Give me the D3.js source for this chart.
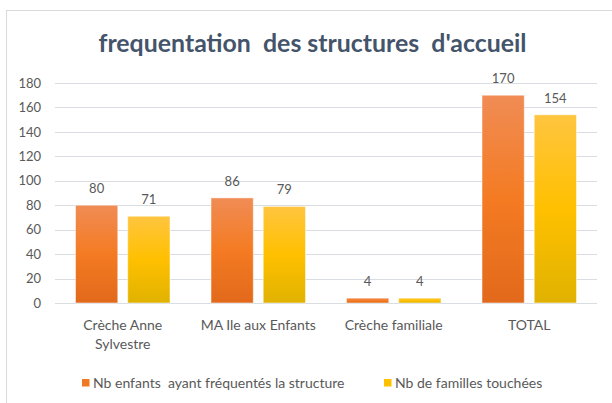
<!DOCTYPE html>
<html>
<head>
<meta charset="utf-8">
<script src="https://cdn.jsdelivr.net/npm/d3@7"></script>
<style>
  body { margin: 0; background: #fff; }
  svg { display: block; font-family: Lato, "Open Sans", sans-serif; }
  text { white-space: pre; }
</style>
</head>
<body>
<div id="viz"></div>
<script>
// ========================================
// Data
// ========================================
var categories = ["Crèche Anne Sylvestre", "MA Ile aux Enfants", "Crèche familiale", "TOTAL"];
var categoryLines = [["Crèche Anne", "Sylvestre"], ["MA Ile aux Enfants"], ["Crèche familiale"], ["TOTAL"]];
var seriesNames = ["Nb enfants  ayant fréquentés la structure", "Nb de familles touchées"];
var enfants = [80, 86, 4, 170];
var familles = [71, 79, 4, 154];
var yTicks = [0, 20, 40, 60, 80, 100, 120, 140, 160, 180];
var title = "frequentation  des structures  d'accueil";

// ========================================
// Layout and colours
// ========================================
var width = 612, height = 403;
var plot = {left: 55, right: 597, top: 83, bottom: 303};
var text_color = '#595959',
    title_color = '#44546A',
    grid_color = '#D9DCE1',
    border_color = '#D9D9D9';

var series = [
   {name: seriesNames[0], values: enfants, grad: 'gOrange', swatch: '#F07A22'},
   {name: seriesNames[1], values: familles, grad: 'gYellow', swatch: '#FFC000'}
];

var svg = d3.select("#viz")
   .append("svg")
   .attr("width", width)
   .attr("height", height);

// gradients for the bars
var defs = svg.append("defs");
function addGradient(id, stops) {
   var g = defs.append("linearGradient")
      .attr("id", id)
      .attr("x1", 0).attr("y1", 0).attr("x2", 0).attr("y2", 1);
   stops.forEach(s => g.append("stop").attr("offset", s[0]).attr("stop-color", s[1]));
}
addGradient('gOrange', [[0, '#F08C55'], [0.5, '#F47B22'], [1, '#E2691B']]);
addGradient('gYellow', [[0, '#FFC53F'], [0.5, '#FFC000'], [1, '#E0B200']]);

// chart border
svg.append("rect")
   .attr("x", 6.5).attr("y", 10.5)
   .attr("width", 640).attr("height", 420)
   .style("fill", "none")
   .style("stroke", border_color);

// title
svg.append("text")
   .attr("x", 312.5)
   .attr("y", 52)
   .attr("text-anchor", "middle")
   .attr("textLength", 428)
   .attr("lengthAdjust", "spacingAndGlyphs")
   .style("font-size", "24px")
   .style("font-weight", "bold")
   .style("fill", title_color)
   .text(title);

// ========================================
// Scales
// ========================================
var x0 = d3.scaleBand()
   .domain(categories)
   .range([plot.left, plot.right]);

var x1 = d3.scaleBand()
   .domain([0, 1])
   .range([20.5, x0.bandwidth() - 20.5])
   .paddingInner(0.19);

var y = d3.scaleLinear()
   .domain([0, 180])
   .range([plot.bottom, plot.top]);

// gridlines
svg.append("g")
   .selectAll("line")
   .data(yTicks)
   .enter()
   .append("line")
   .attr("x1", plot.left).attr("x2", plot.right)
   .attr("y1", d => Math.round(y(d)) + 0.5)
   .attr("y2", d => Math.round(y(d)) + 0.5)
   .style("stroke", grid_color)
   .style("stroke-width", 1.2);

// y axis labels
var yAxis = svg.append("g")
   .attr("transform", `translate(${plot.left - 14}, 0)`)
   .call(d3.axisLeft(y).tickValues(yTicks).tickSize(0).tickPadding(0));
yAxis.select(".domain").remove();
yAxis.selectAll("text")
   .style("font-family", "Lato, sans-serif")
   .style("font-size", "13px")
   .style("fill", text_color);

// x axis labels
var xAxis = svg.append("g")
   .attr("transform", `translate(0, ${plot.bottom})`)
   .call(d3.axisBottom(x0).tickSize(0).tickPadding(0));
xAxis.select(".domain").remove();
xAxis.selectAll("text")
   .style("font-family", "Lato, sans-serif")
   .style("font-size", "14px")
   .style("fill", text_color)
   .attr("dy", null)
   .attr("y", 0)
   .each(function(d, i) {
      var t = d3.select(this).text(null);
      categoryLines[i].forEach((line, j) => {
         t.append("tspan")
            .attr("x", 0)
            .attr("y", 27 + j * 19)
            .text(line);
      });
   });

// ========================================
// Bars and labels
// ========================================
var groups = svg.append("g")
   .selectAll("g")
   .data(categories)
   .enter()
   .append("g")
   .attr("transform", d => `translate(${x0(d)}, 0)`);

series.forEach((s, si) => {
   groups.append("rect")
      .attr("x", x1(si))
      .attr("width", x1.bandwidth())
      .attr("y", (d, i) => y(s.values[i]))
      .attr("height", (d, i) => y(0) - y(s.values[i]))
      .style("fill", `url(#${s.grad})`)
      .style("stroke", "rgba(255,255,255,0.5)")
      .style("stroke-width", 1);

   groups.append("text")
      .attr("x", x1(si) + x1.bandwidth() / 2)
      .attr("y", (d, i) => y(s.values[i]) - 12)
      .attr("text-anchor", "middle")
      .style("font-size", "13px")
      .style("fill", text_color)
      .text((d, i) => s.values[i]);
});

// ========================================
// Legend
// ========================================
var legendX = [82, 384];
var legend = svg.append("g")
   .selectAll("g")
   .data(series)
   .enter()
   .append("g")
   .attr("transform", (d, i) => `translate(${legendX[i]}, 0)`);

legend.append("rect")
   .attr("x", 0).attr("y", 379)
   .attr("width", 7.5).attr("height", 7.5)
   .style("fill", d => d.swatch);

legend.append("text")
   .attr("x", 11)
   .attr("y", 388)
   .style("font-size", "14px")
   .style("fill", text_color)
   .text(d => d.name);
</script>
</body>
</html>
